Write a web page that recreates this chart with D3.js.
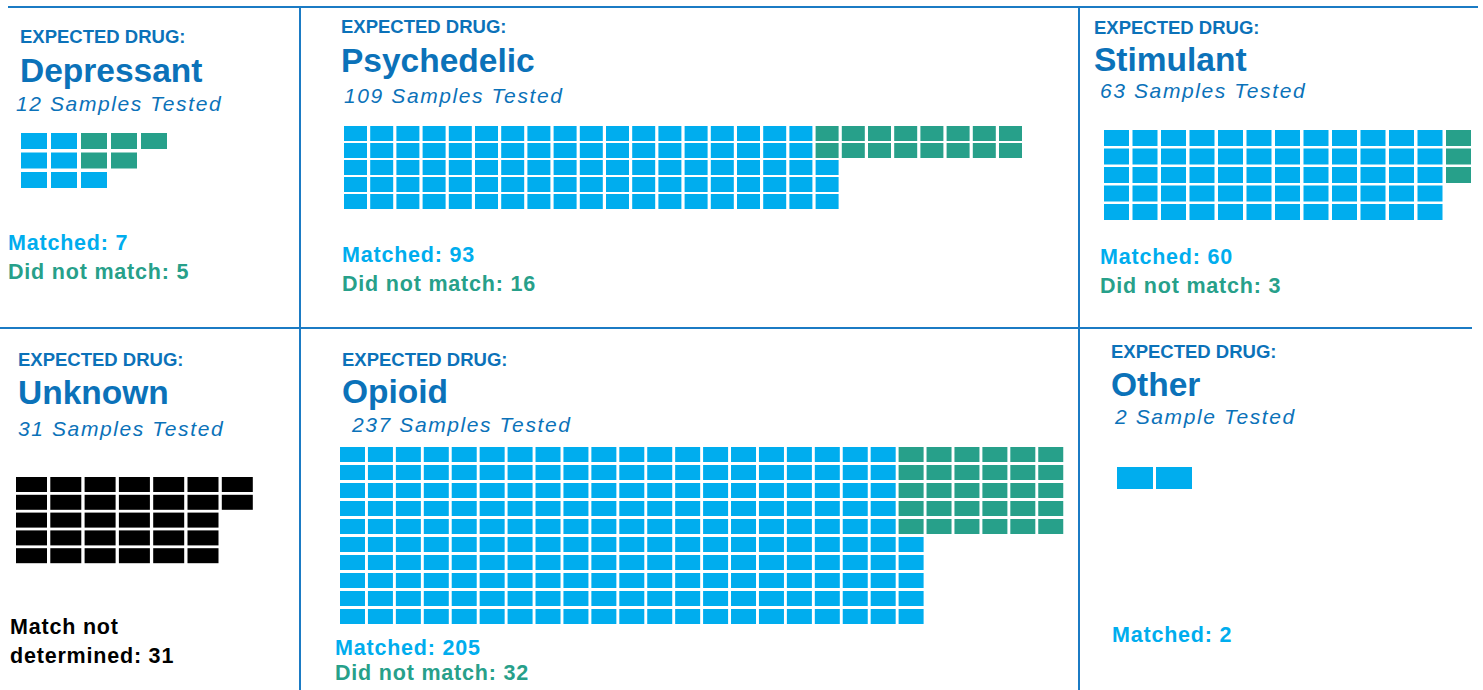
<!DOCTYPE html>
<html>
<head>
<meta charset="utf-8">
<script src="https://cdn.jsdelivr.net/npm/d3@7"></script>
<style>
  html, body { margin: 0; padding: 0; background: #ffffff; }
  svg { display: block; }
</style>
</head>
<body>
<svg id="chart" width="1483" height="690"></svg>
<script>
// ---------------- data ----------------
const categories     = ["Depressant", "Psychedelic", "Stimulant", "Unknown", "Opioid", "Other"];
const samplesTested  = [12, 109, 63, 31, 237, 2];
const sampleWord     = ["Samples", "Samples", "Samples", "Samples", "Samples", "Sample"];
const matched        = [7, 93, 60, 0, 205, 2];
const didNotMatch    = [5, 16, 3, 0, 32, 0];
const notDetermined  = [0, 0, 0, 31, 0, 0];
// squares as drawn in the original graphic
const matchedSquares = [7, 93, 60, 0, 205, 2];
const otherSquares   = [5, 16, 3, 32, 30, 0];
const gridRows       = [3, 5, 5, 5, 10, 1];

// ---------------- layout / style ----------------
const BLUE_TEXT = "#0b72b9";
const CYAN = "#00adee";
const GREEN = "#27a08a";
const BLACK = "#000000";
const LINE = "#1b7bc4";

const layout = [
  {tx: 20,   eY: 43,  tY: 82,  sX: 16,   sY: 111, gx: 21,   gy: 133, pw: 30,    ph: 19.5, cw: 26, ch: 16, lx: 8,    l1: 250, l2: 279},
  {tx: 341,  eY: 33,  tY: 72,  sX: 344,  sY: 103, gx: 344,  gy: 126, pw: 26.2,  ph: 17,   cw: 23, ch: 15, lx: 342,  l1: 262, l2: 291},
  {tx: 1094, eY: 34,  tY: 71,  sX: 1100, sY: 98,  gx: 1104, gy: 130, pw: 28.5,  ph: 18.5, cw: 25, ch: 16, lx: 1100, l1: 264, l2: 293},
  {tx: 18,   eY: 366, tY: 404, sX: 18,   sY: 436, gx: 16,   gy: 477, pw: 34.3,  ph: 17.8, cw: 31, ch: 15, lx: 10,   l1: 634, l2: 663},
  {tx: 342,  eY: 366, tY: 403, sX: 352,  sY: 432, gx: 340,  gy: 447, pw: 27.93, ph: 18,   cw: 25, ch: 15, lx: 335,  l1: 655, l2: 680},
  {tx: 1111, eY: 358, tY: 396, sX: 1115, sY: 424, gx: 1117, gy: 467, pw: 39,    ph: 25,   cw: 36, ch: 22, lx: 1112, l1: 642, l2: null}
];

const svg = d3.select("#chart");

// frame lines
const frame = [
  {x1: 8, y1: 7, x2: 1478, y2: 7},
  {x1: 0, y1: 328, x2: 1472, y2: 328},
  {x1: 300, y1: 7, x2: 300, y2: 690},
  {x1: 1079, y1: 7, x2: 1079, y2: 690}
];
svg.append("g").selectAll("line").data(frame).join("line")
  .attr("x1", d => d.x1).attr("y1", d => d.y1)
  .attr("x2", d => d.x2).attr("y2", d => d.y2)
  .attr("stroke", LINE).attr("stroke-width", 2);

// build waffle cells: matched fills column-major, bottom aligned in last partial column;
// the second group fills column-major top-down beginning in the column where matched ended
function buildCells(i) {
  const rows = gridRows[i];
  const cells = [];
  const m = matchedSquares[i];
  const fullCols = Math.floor(m / rows);
  const rem = m % rows;
  for (let c = 0; c < fullCols; c++)
    for (let r = 0; r < rows; r++) cells.push({col: c, row: r, kind: "m"});
  for (let k = 0; k < rem; k++) cells.push({col: fullCols, row: rows - rem + k, kind: "m"});
  const o = otherSquares[i];
  const h = rem > 0 ? rows - rem : rows;
  for (let k = 0; k < o; k++) {
    cells.push({col: fullCols + Math.floor(k / h), row: k % h, kind: "o"});
  }
  return cells;
}

const FONT = "Liberation Sans, Arial, sans-serif";
const LABEL_SIZE = 21.5;
const LABEL_LS = 0.8;

categories.forEach((cat, i) => {
  const L = layout[i];
  const g = svg.append("g");

  g.append("text")
    .attr("x", L.tx).attr("y", L.eY)
    .attr("font-family", FONT)
    .attr("font-weight", "bold").attr("font-size", 18.5)
    .attr("fill", BLUE_TEXT)
    .text("EXPECTED DRUG:");

  g.append("text")
    .attr("x", L.tx).attr("y", L.tY)
    .attr("font-family", FONT)
    .attr("font-weight", "bold").attr("font-size", 33.5)
    .attr("fill", BLUE_TEXT)
    .text(cat);

  g.append("text")
    .attr("x", L.sX).attr("y", L.sY)
    .attr("font-family", FONT)
    .attr("font-style", "italic").attr("font-size", 21)
    .attr("letter-spacing", 1.6)
    .attr("fill", BLUE_TEXT)
    .text(`${samplesTested[i]} ${sampleWord[i]} Tested`);

  const cells = buildCells(i);
  const nCols = d3.max(cells, d => d.col) + 1;
  const x = d3.scaleLinear().domain([0, nCols]).range([L.gx, L.gx + nCols * L.pw]);
  const y = d3.scaleLinear().domain([0, gridRows[i]]).range([L.gy, L.gy + gridRows[i] * L.ph]);
  const otherColor = notDetermined[i] > 0 ? BLACK : GREEN;

  g.append("g").selectAll("rect").data(cells).join("rect")
    .attr("x", d => x(d.col)).attr("y", d => y(d.row))
    .attr("width", L.cw).attr("height", L.ch)
    .attr("fill", d => d.kind === "m" ? CYAN : otherColor);

  const label = (yy, color, txt) => g.append("text").attr("x", L.lx).attr("y", yy)
      .attr("font-family", FONT).attr("font-weight", "bold").attr("font-size", LABEL_SIZE)
      .attr("letter-spacing", LABEL_LS).attr("fill", color).text(txt);

  if (notDetermined[i] > 0) {
    label(L.l1, BLACK, "Match not");
    label(L.l2, BLACK, `determined: ${notDetermined[i]}`);
  } else {
    label(L.l1, CYAN, `Matched: ${matched[i]}`);
    if (didNotMatch[i] > 0 && L.l2 !== null) {
      label(L.l2, GREEN, `Did not match: ${didNotMatch[i]}`);
    }
  }
});
</script>
</body>
</html>
